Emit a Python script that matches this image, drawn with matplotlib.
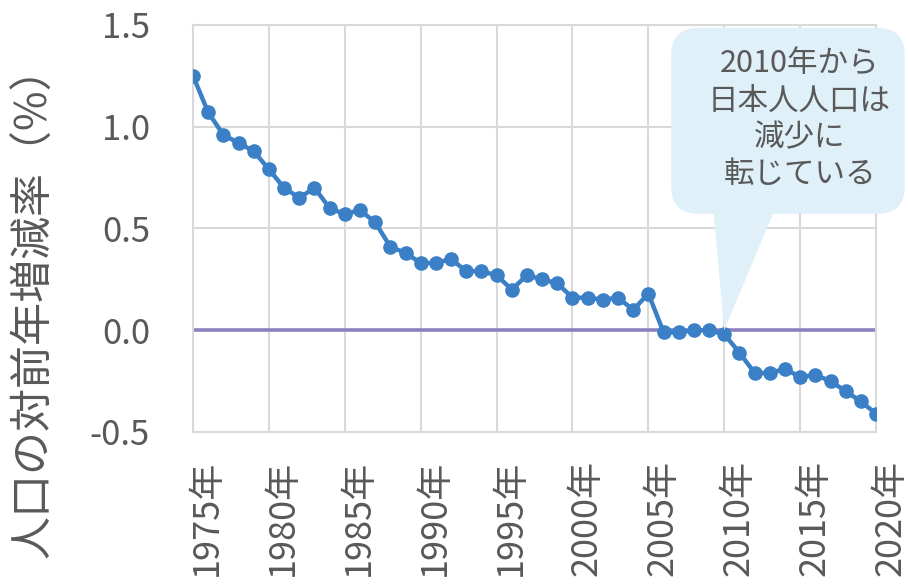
import numpy as np
import matplotlib
matplotlib.use('Agg')
import matplotlib.pyplot as plt
from matplotlib.patches import FancyBboxPatch, Polygon
from matplotlib.transforms import ScaledTranslation

plt.rcParams['font.family'] = ['Noto Sans CJK JP', 'DejaVu Sans']

# Data
years = list(range(1975, 2021))
rate = [1.25, 1.07, 0.96, 0.92, 0.88, 0.79, 0.70, 0.65, 0.70, 0.60,
        0.57, 0.59, 0.53, 0.41, 0.38, 0.33, 0.33, 0.35, 0.29, 0.29,
        0.27, 0.20, 0.27, 0.25, 0.23, 0.16, 0.16, 0.15, 0.16, 0.10,
        0.18, -0.01, -0.01, 0.00, 0.00, -0.02, -0.11, -0.21, -0.21, -0.19,
        -0.23, -0.22, -0.25, -0.30, -0.35, -0.41]
baseline = [0.0] * len(years)
tick_years = list(range(1975, 2021, 5))
tick_labels = [f'{y}年' for y in tick_years]
y_ticks = [-0.5, 0.0, 0.5, 1.0, 1.5]
y_labels = ['-0.5', '0.0', '0.5', '1.0', '1.5']
note = '2010年から\n日本人人口は\n減少に\n転じている'
note_year = 2010

text_color = '#595959'
grid_color = '#d9d9d9'

fig = plt.figure(figsize=(9.08, 5.87), dpi=100)
ax = fig.add_axes([0.2126, 0.2641, 0.7522, 0.6934])

ax.plot(years, baseline, color='#8c80bf', lw=2.6, zorder=2, solid_capstyle='butt')
ax.plot(years, rate, color='#3b80c6', lw=3.2, marker='o', ms=9.5, zorder=3)

ax.set_xlim(1975, 2020)
ax.set_ylim(-0.5, 1.5)
ax.set_xticks(tick_years, tick_labels, rotation=90)
ax.set_yticks(y_ticks, y_labels)
ax.grid(True, color=grid_color, lw=1.5)
ax.set_axisbelow(True)
for s in ax.spines.values():
    s.set_color(grid_color)
    s.set_linewidth(1.5)
ax.tick_params(axis='both', length=0, colors=text_color, labelsize=25)
ax.tick_params(axis='x', pad=20, labelsize=26)
ax.tick_params(axis='y', pad=31)
for lab in ax.get_xticklabels():
    lab.set_transform(lab.get_transform() + ScaledTranslation(0.14, 0, fig.dpi_scale_trans))
    lab.set_va('top')

fig.text(0.038, 1 - 302 / 587, '人口の対前年増減率（%）', rotation=90,
         ha='center', va='center', fontsize=31, color=text_color)

# callout bubble
bubble_color = '#dff0f8'
aspect = (0.7522 * 908) / (0.6934 * 587)
box = FancyBboxPatch((0.700, 0.536), 0.342, 0.457,
                     boxstyle='round,pad=0,rounding_size=0.04',
                     mutation_aspect=aspect, transform=ax.transAxes,
                     facecolor=bubble_color, edgecolor='none',
                     clip_on=False, zorder=4)
ax.add_patch(box)
i = years.index(note_year)
tip = (ax.transData + ax.transAxes.inverted()).transform((years[i], baseline[i]))
tail = Polygon([(0.761, 0.56), (0.855, 0.56), tip], closed=True,
               transform=ax.transAxes, facecolor=bubble_color,
               edgecolor='none', clip_on=False, zorder=4)
ax.add_patch(tail)
ax.text(0.888, 0.768, note, transform=ax.transAxes, ha='center', va='center',
        fontsize=22, color=text_color, linespacing=1.25, zorder=5)

fig.savefig('out.png', dpi=100)
